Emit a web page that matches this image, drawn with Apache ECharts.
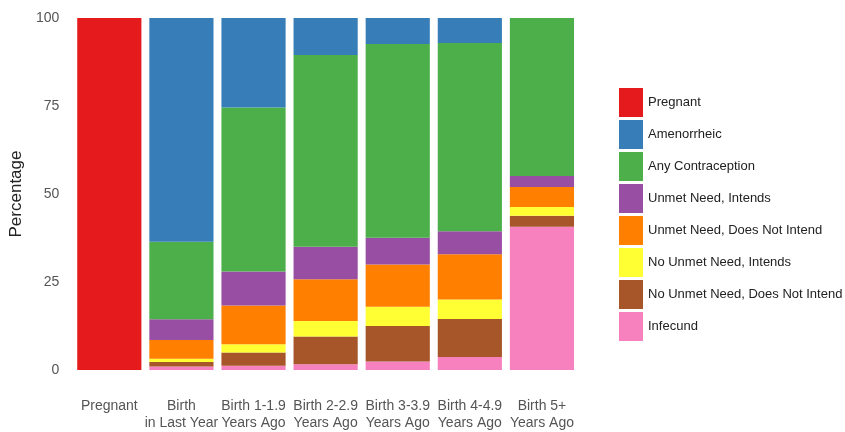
<!DOCTYPE html>
<html>
<head>
<meta charset="utf-8">
<script src="https://cdn.jsdelivr.net/npm/echarts@6/dist/echarts.min.js"></script>
<style>html,body{margin:0;padding:0;background:#fff}</style>
</head>
<body>
<div id="chart" style="width:845px;height:432px"></div>
<script>
const categories = ['Pregnant', 'Birth\nin Last Year', 'Birth 1-1.9\nYears Ago', 'Birth 2-2.9\nYears Ago',
    'Birth 3-3.9\nYears Ago', 'Birth 4-4.9\nYears Ago', 'Birth 5+\nYears Ago']
const yTicks = [0, 25, 50, 75, 100]

// stacked bottom to top
const infecund = [0, 1.0, 1.2, 1.6, 2.4, 3.7, 40.7]
const noUnmetNotIntend = [0, 1.3, 3.8, 7.9, 10.1, 10.8, 3.1]
const noUnmetIntends = [0, 0.9, 2.3, 4.4, 5.5, 5.5, 2.5]
const unmetNotIntend = [0, 5.3, 11.0, 11.9, 12.0, 12.9, 5.7]
const unmetIntends = [0, 5.9, 9.7, 9.2, 7.6, 6.5, 3.1]
const anyContraception = [0, 22.0, 46.6, 54.5, 55.0, 53.5, 44.9]
const amenorrheic = [0, 63.6, 25.4, 10.5, 7.4, 7.1, 0]
const pregnant = [100, 0, 0, 0, 0, 0, 0]

const stack = [
    ['Infecund', infecund, '#f781bf'],
    ['No Unmet Need, Does Not Intend', noUnmetNotIntend, '#a65628'],
    ['No Unmet Need, Intends', noUnmetIntends, '#ffff33'],
    ['Unmet Need, Does Not Intend', unmetNotIntend, '#ff7f00'],
    ['Unmet Need, Intends', unmetIntends, '#984ea3'],
    ['Any Contraception', anyContraception, '#4daf4a'],
    ['Amenorrheic', amenorrheic, '#377eb8'],
    ['Pregnant', pregnant, '#e41a1c'],
]

const chart = echarts.init(document.getElementById('chart'))
chart.setOption({
    animation: false,
    textStyle: { fontFamily: 'Liberation Sans, Arial, sans-serif' },
    grid: { left: 70, right: 267, top: 18, bottom: 60 },
    legend: {
        orient: 'vertical',
        left: 614,
        top: 83,
        itemWidth: 24,
        itemHeight: 29,
        itemGap: 3,
        icon: 'rect',
        textStyle: { fontSize: 13, color: '#222' },
        data: stack.map(s => s[0]).reverse(),
    },
    xAxis: {
        type: 'category',
        data: categories,
        axisLine: { show: false },
        axisTick: { show: false },
        axisLabel: { color: '#555', fontSize: 14, lineHeight: 17, margin: 28, interval: 0 },
    },
    yAxis: {
        type: 'value',
        min: 0,
        max: 100,
        interval: 25,
        name: 'Percentage',
        nameLocation: 'middle',
        nameGap: 46,
        nameTextStyle: { fontSize: 17, color: '#222' },
        splitLine: { show: false },
        axisLabel: { color: '#555', fontSize: 14, margin: 14, customValues: yTicks },
    },
    series: stack.map(([name, vals, color]) => ({
        name,
        type: 'bar',
        stack: 'all',
        data: vals,
        barCategoryGap: '11%',
        itemStyle: { color },
    })),
})
</script>
</body>
</html>
